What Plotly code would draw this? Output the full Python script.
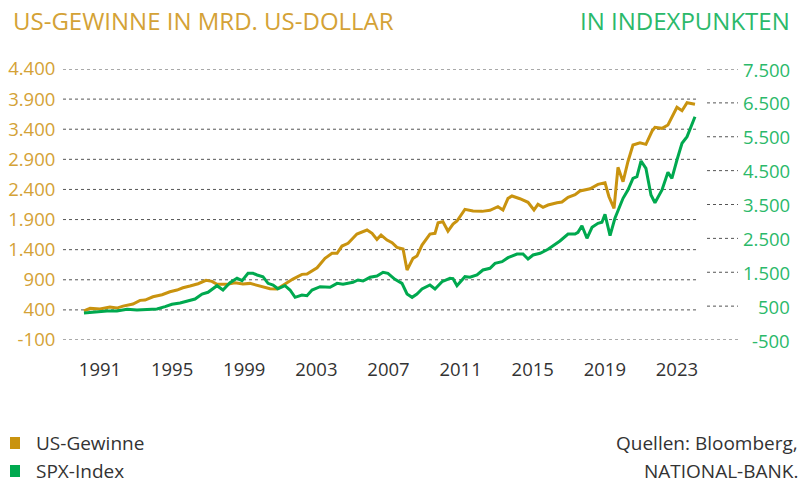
import plotly.graph_objects as go

# ---- data ----
gold_years = [1990.11, 1990.45, 1991.00, 1991.55, 1991.93, 1992.28, 1992.83, 1993.22, 1993.50, 1993.94,
              1994.44, 1994.88, 1995.27, 1995.60, 1995.99, 1996.44, 1996.88, 1997.21, 1997.49, 1998.04,
              1998.49, 1998.93, 1999.32, 1999.87, 2000.43, 2000.82, 2001.15, 2001.70, 2002.20, 2002.48,
              2003.04, 2003.48, 2003.87, 2004.15, 2004.42, 2004.76, 2005.25, 2005.81, 2006.09, 2006.36,
              2006.59, 2006.92, 2007.20, 2007.47, 2007.81, 2008.03, 2008.36, 2008.58, 2008.86, 2009.30,
              2009.58, 2009.75, 2010.02, 2010.30, 2010.58, 2010.80, 2011.24, 2011.69, 2012.19, 2012.63,
              2013.07, 2013.35, 2013.63, 2013.85, 2014.29, 2014.74, 2015.07, 2015.29, 2015.57, 2015.85,
              2016.35, 2016.62, 2016.96, 2017.35, 2017.62, 2018.18, 2018.62, 2019.01, 2019.23, 2019.51,
              2019.73, 2020.01, 2020.28, 2020.56, 2020.95, 2021.28, 2021.62, 2021.78, 2022.17, 2022.50,
              2023.00, 2023.28, 2023.56, 2024.00]
us_profits = [385, 425, 414, 447, 430, 463, 497, 558, 563, 618,
              652, 701, 729, 767, 796, 834, 890, 874, 824, 824,
              851, 829, 840, 790, 751, 746, 812, 912, 990, 995,
              1100, 1256, 1339, 1339, 1460, 1505, 1659, 1726, 1671, 1571,
              1643, 1560, 1515, 1438, 1410, 1061, 1256, 1294, 1477, 1659,
              1671, 1847, 1864, 1709, 1826, 1875, 2070, 2041, 2036, 2053,
              2113, 2058, 2252, 2291, 2246, 2186, 2058, 2153, 2103, 2141,
              2179, 2191, 2269, 2312, 2374, 2412, 2485, 2511, 2279, 2086,
              2767, 2528, 2860, 3138, 3176, 3149, 3370, 3432, 3415, 3470,
              3764, 3707, 3840, 3814]

spx_years = [1990.11, 1990.61, 1991.39, 1991.94, 1992.50, 1993.05, 1993.61, 1994.16, 1994.61, 1994.99,
             1995.44, 1995.83, 1996.27, 1996.66, 1996.99, 1997.49, 1997.82, 1998.21, 1998.60, 1998.88,
             1999.21, 1999.49, 1999.71, 2000.04, 2000.32, 2000.60, 2000.87, 2001.26, 2001.54, 2001.82,
             2002.20, 2002.48, 2002.76, 2003.21, 2003.76, 2004.15, 2004.48, 2005.03, 2005.31, 2005.59,
             2005.98, 2006.36, 2006.70, 2006.97, 2007.36, 2007.75, 2008.03, 2008.31, 2008.58, 2008.86,
             2009.30, 2009.58, 2009.97, 2010.41, 2010.58, 2010.80, 2011.24, 2011.52, 2011.91, 2012.24,
             2012.63, 2012.91, 2013.30, 2013.63, 2014.13, 2014.46, 2014.74, 2015.02, 2015.41, 2015.85,
             2016.24, 2016.51, 2016.96, 2017.35, 2017.51, 2017.73, 2018.01, 2018.29, 2018.62, 2018.84,
             2019.01, 2019.29, 2019.56, 2020.01, 2020.28, 2020.56, 2020.78, 2021.01, 2021.28, 2021.56,
             2021.78, 2022.17, 2022.50, 2022.72, 2023.00, 2023.28, 2023.56, 2024.00]
spx_index = [300, 327, 356, 356, 406, 386, 406, 415, 484, 553,
             592, 651, 710, 858, 908, 1103, 976, 1192, 1321, 1250,
             1469, 1469, 1419, 1369, 1173, 1124, 1015, 1103, 976, 760,
             829, 808, 976, 1074, 1055, 1173, 1144, 1203, 1271, 1242,
             1351, 1390, 1499, 1469, 1292, 1173, 858, 760, 858, 1006,
             1124, 1006, 1222, 1321, 1311, 1103, 1369, 1351, 1419, 1567,
             1617, 1764, 1813, 1931, 2039, 2039, 1891, 2010, 2059, 2177,
             2325, 2423, 2629, 2629, 2679, 2874, 2502, 2827, 2945, 2974,
             3211, 2580, 3093, 3683, 3928, 4273, 4321, 4784, 4567, 3780,
             3553, 3928, 4449, 4273, 4814, 5307, 5503, 6092]

year_ticks = [1991, 1995, 1999, 2003, 2007, 2011, 2015, 2019, 2023]
left_ticks = [4400, 3900, 3400, 2900, 2400, 1900, 1400, 900, 400, -100]
left_labels = ["4.400", "3.900", "3.400", "2.900", "2.400", "1.900", "1.400", "900", "400", "-100"]
right_ticks = [7500, 6500, 5500, 4500, 3500, 2500, 1500, 500, -500]
right_labels = ["7.500", "6.500", "5.500", "4.500", "3.500", "2.500", "1.500", "500", "-500"]

GOLD = "#C9930F"
GOLD_TXT = "#D4A236"
GREEN = "#00A94F"
GREEN_TXT = "#2BB96A"
GRID = "#555555"
FONT = "Open Sans"

W, H = 808, 485
# plot area in screen pixels
PL, PR, PT, PB = 63, 738, 69, 340


def px(p):  # screen x -> paper fraction
    return (p - PL) / (PR - PL)


def py(p):  # screen y -> paper fraction
    return (PB - p) / (PB - PT)


fig = go.Figure()
fig.add_trace(go.Scatter(x=gold_years, y=us_profits, mode="lines", name="US-Gewinne",
                         line=dict(color=GOLD, width=3), yaxis="y"))
fig.add_trace(go.Scatter(x=spx_years, y=spx_index, mode="lines", name="SPX-Index",
                         line=dict(color=GREEN, width=3), yaxis="y2"))

left_end = px(697)
right_start = px(707)

shapes = []
for v in left_ticks[:-1]:
    shapes.append(dict(type="line", xref="x domain", yref="y", x0=0, x1=left_end, y0=v, y1=v,
                       line=dict(color=GRID, width=1, dash="dot"), layer="below"))
for v in right_ticks[:-1]:
    shapes.append(dict(type="line", xref="x domain", yref="y2", x0=right_start, x1=1, y0=v, y1=v,
                       line=dict(color=GRID, width=1, dash="dot"), layer="below"))
shapes.append(dict(type="line", xref="x domain", yref="y", x0=0, x1=1, y0=-100, y1=-100,
                   line=dict(color=GRID, width=1, dash="dot"), layer="below"))

fig.update_layout(
    width=W, height=H, autosize=False,
    margin=dict(l=PL, r=W - PR, t=PT, b=H - PB, pad=0, autoexpand=False),
    paper_bgcolor="white", plot_bgcolor="white",
    showlegend=False,
    font=dict(family=FONT, color="#333333"),
    xaxis=dict(range=[1988.948, 2026.386], tickvals=year_ticks,
               ticktext=[str(y) for y in year_ticks], showgrid=False, zeroline=False,
               showline=False, ticks="outside", ticklen=13, tickcolor="rgba(0,0,0,0)",
               tickfont=dict(size=18.5, color="#333333"), anchor="y", automargin=False),
    yaxis=dict(range=[-100, 4400], tickvals=left_ticks, ticktext=left_labels,
               showgrid=False, zeroline=False, showline=False, ticks="outside", ticklen=3,
               tickcolor="rgba(0,0,0,0)", tickfont=dict(size=18.5, color=GOLD_TXT),
               automargin=False),
    yaxis2=dict(range=[-500, 7500], overlaying="y", side="right",
                showticklabels=False, showgrid=False, zeroline=False, showline=False,
                ticks="", automargin=False),
    shapes=shapes,
)

# right-axis labels (right-aligned, as in the reference)
for v, lab in zip(right_ticks, right_labels):
    fig.add_annotation(text=lab, xref="paper", yref="y2", x=px(792), y=v, xanchor="right",
                       yanchor="middle", showarrow=False,
                       font=dict(size=18.5, color=GREEN_TXT, family=FONT))

fig.add_annotation(text="US-GEWINNE IN MRD. US-DOLLAR", xref="paper", yref="paper",
                   x=px(11), y=py(20), xanchor="left", yanchor="middle", showarrow=False,
                   font=dict(size=24, color=GOLD_TXT, family=FONT))
fig.add_annotation(text="IN INDEXPUNKTEN", xref="paper", yref="paper",
                   x=px(792), y=py(20), xanchor="right", yanchor="middle", showarrow=False,
                   font=dict(size=24, color=GREEN_TXT, family=FONT))

# legend
legend_items = [("US-Gewinne", GOLD, 443), ("SPX-Index", GREEN, 471)]
for label, col, yc in legend_items:
    fig.add_shape(type="rect", xref="paper", yref="paper", x0=px(10), x1=px(20),
                  y0=py(yc + 6), y1=py(yc - 6), fillcolor=col, line=dict(width=0))
    fig.add_annotation(text=label, xref="paper", yref="paper", x=px(34), y=py(yc),
                       xanchor="left", yanchor="middle", showarrow=False,
                       font=dict(size=19, color="#333333", family=FONT))

for txt, yc in [("Quellen: Bloomberg,", 443), ("NATIONAL-BANK.", 471)]:
    fig.add_annotation(text=txt, xref="paper", yref="paper", x=px(800), y=py(yc),
                       xanchor="right", yanchor="middle", showarrow=False,
                       font=dict(size=19, color="#333333", family=FONT))

fig.write_html("out.html", config={"displayModeBar": False},
               post_script="document.body.style.margin='0';document.body.style.overflow='hidden';")
